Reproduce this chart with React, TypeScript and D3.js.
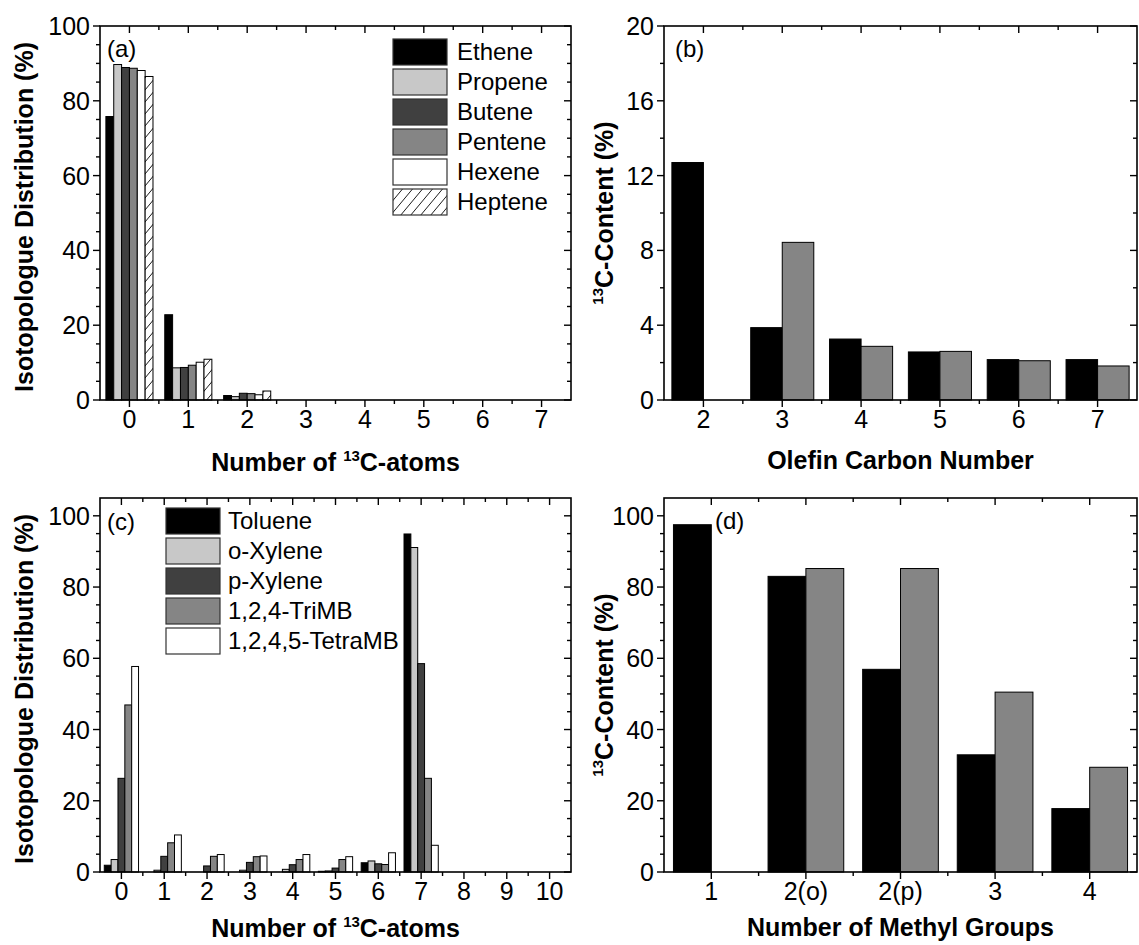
import React from 'react';
import * as d3 from 'd3';

// ---------- DATA ----------
// Panel (a): isotopologue distribution of olefins, by number of 13C atoms
const atomsA = [0, 1, 2, 3, 4, 5, 6, 7];
const olefinNames = ['Ethene', 'Propene', 'Butene', 'Pentene', 'Hexene', 'Heptene'];
const ethene = [75.8, 22.8, 1.2, 0, 0, 0, 0, 0];
const propene = [89.7, 8.6, 0.9, 0, 0, 0, 0, 0];
const butene = [88.9, 8.7, 1.8, 0, 0, 0, 0, 0];
const pentene = [88.7, 9.3, 1.7, 0, 0, 0, 0, 0];
const hexene = [88.1, 10.1, 1.4, 0, 0, 0, 0, 0];
const heptene = [86.5, 10.9, 2.4, 0, 0, 0, 0, 0];
const olefinSeries = [ethene, propene, butene, pentene, hexene, heptene];
const olefinColors = ['#000000', '#c8c8c8', '#404040', '#858585', '#ffffff', 'url(#hatch)'];

// Panel (b): 13C content vs olefin carbon number
const carbonNumbers = ['2', '3', '4', '5', '6', '7'];
const olefinContentA = [12.7, 3.87, 3.26, 2.57, 2.16, 2.16];
const olefinContentB = [null, 8.43, 2.87, 2.6, 2.1, 1.82];

// Panel (c): isotopologue distribution of aromatics
const atomsC = [0, 1, 2, 3, 4, 5, 6, 7, 8, 9, 10];
const aromaticNames = ['Toluene', 'o-Xylene', 'p-Xylene', '1,2,4-TriMB', '1,2,4,5-TetraMB'];
const toluene = [1.9, 0, 0, 0, 0, 0.2, 2.6, 94.9, 0, 0, 0];
const oXylene = [3.5, 0.5, 0, 0.5, 0.75, 0.3, 3.1, 91.1, 0, 0, 0];
const pXylene = [26.3, 4.4, 1.7, 2.7, 2.05, 1.1, 2.3, 58.5, 0, 0, 0];
const triMB = [46.9, 8.2, 4.4, 4.3, 3.5, 3.5, 2.1, 26.3, 0, 0, 0];
const tetraMB = [57.7, 10.4, 4.9, 4.5, 4.9, 4.3, 5.4, 7.5, 0, 0, 0];
const aromaticSeries = [toluene, oXylene, pXylene, triMB, tetraMB];
const aromaticColors = ['#000000', '#c8c8c8', '#404040', '#858585', '#ffffff'];

// Panel (d): 13C content vs number of methyl groups
const methylGroups = ['1', '2(o)', '2(p)', '3', '4'];
const aromaticContentA = [97.5, 83.0, 56.9, 32.9, 17.8];
const aromaticContentB = [null, 85.2, 85.2, 50.5, 29.4];

const pairColors = ['#000000', '#858585'];

// ---------- STYLE ----------
const FONT = '"Liberation Sans", Arial, Helvetica, sans-serif';
const MAJ = 7;
const MIN = 4;
const TICK_FS = 25;
const TITLE_FS = 25;
const LEG_FS = 24;

type Lin = d3.ScaleLinear<number, number>;

function Axes({ x, y, xMajor, xMinor, yMajor, yMinor, xLabel, yLabel }: {
  x: Lin; y: Lin; xMajor: number[]; xMinor: number[]; yMajor: number[]; yMinor: number[];
  xLabel: (v: number, i: number) => string; yLabel: (v: number) => string;
}) {
  const [X0, X1] = x.range();
  const [Yb, Yt] = y.range();
  const lines: JSX.Element[] = [];
  xMajor.forEach((v, i) => {
    lines.push(<line key={'bM' + i} x1={x(v)} x2={x(v)} y1={Yb} y2={Yb + MAJ} />);
    lines.push(<line key={'tM' + i} x1={x(v)} x2={x(v)} y1={Yt} y2={Yt + MAJ} />);
  });
  xMinor.forEach((v, i) => {
    lines.push(<line key={'bm' + i} x1={x(v)} x2={x(v)} y1={Yb} y2={Yb + MIN} />);
    lines.push(<line key={'tm' + i} x1={x(v)} x2={x(v)} y1={Yt} y2={Yt + MIN} />);
  });
  yMajor.forEach((v, i) => {
    lines.push(<line key={'lM' + i} x1={X0 - MAJ} x2={X0} y1={y(v)} y2={y(v)} />);
    lines.push(<line key={'rM' + i} x1={X1 - MAJ} x2={X1} y1={y(v)} y2={y(v)} />);
  });
  yMinor.forEach((v, i) => {
    lines.push(<line key={'lm' + i} x1={X0 - MIN} x2={X0} y1={y(v)} y2={y(v)} />);
    lines.push(<line key={'rm' + i} x1={X1 - MIN} x2={X1} y1={y(v)} y2={y(v)} />);
  });
  return (
    <g>
      <g stroke="#000" strokeWidth={1.4}>{lines}</g>
      <rect x={X0} y={Yt} width={X1 - X0} height={Yb - Yt} fill="none" stroke="#000" strokeWidth={1.6} />
      <g fontFamily={FONT} fontSize={TICK_FS} fill="#000">
        {xMajor.map((v, i) => (
          <text key={'xl' + i} x={x(v)} y={Yb + 28} textAnchor="middle">{xLabel(v, i)}</text>
        ))}
        {yMajor.map((v, i) => (
          <text key={'yl' + i} x={X0 - 10} y={y(v) + 9} textAnchor="end">{yLabel(v)}</text>
        ))}
      </g>
    </g>
  );
}

function minorsBetween(majors: number[], step: number, lo: number, hi: number, majorStep: number) {
  const out: number[] = [];
  for (let v = lo; v <= hi + 1e-9; v += step) {
    const r = Math.round(v * 1000) / 1000;
    if (Math.abs(r / majorStep - Math.round(r / majorStep)) > 1e-6) out.push(r);
  }
  return out;
}

function GroupedBars({ x, y, series, colors, names }: {
  x: Lin; y: Lin; series: (number | null)[][]; colors: string[]; names: string[];
}) {
  const inner = d3.scaleBand<string>().domain(names).range([-0.4, 0.4]).paddingInner(0);
  const w = x(inner.bandwidth()) - x(0);
  const out: JSX.Element[] = [];
  series.forEach((vals, s) => {
    vals.forEach((v, i) => {
      if (v == null || v <= 0) return;
      const xx = x(i + (inner(names[s]) as number));
      out.push(
        <rect key={s + '-' + i} x={xx} y={y(v)} width={w} height={y(0) - y(v)}
          fill={colors[s]} stroke="#000" strokeWidth={1} />
      );
    });
  });
  return <g>{out}</g>;
}

function Legend({ x, y, names, colors, textX }: { x: number; y: number; names: string[]; colors: string[]; textX: number }) {
  return (
    <g>
      {names.map((n, i) => (
        <g key={n}>
          <rect x={x} y={y + i * 30} width={54} height={26} fill={colors[i]} stroke="#333" strokeWidth={1.2} />
          <text x={textX} y={y + i * 30 + 21} fontFamily={FONT} fontSize={LEG_FS}>{n}</text>
        </g>
      ))}
    </g>
  );
}

function YTitle({ cx, cy, children }: { cx: number; cy: number; children: React.ReactNode }) {
  return (
    <text transform={`translate(${cx},${cy}) rotate(-90)`} textAnchor="middle"
      fontFamily={FONT} fontSize={TITLE_FS} fontWeight="bold">{children}</text>
  );
}

export default function App() {
  // Panel positions
  const A = { x0: 100, x1: 571, y0: 26, y1: 400 };
  const B = { x0: 664, x1: 1137, y0: 26, y1: 400 };
  const C = { x0: 100, x1: 571, y0: 498, y1: 872 };
  const D = { x0: 664, x1: 1137, y0: 498, y1: 872 };

  const xa = d3.scaleLinear().domain([-0.5, 7.5]).range([A.x0, A.x1]);
  const ya = d3.scaleLinear().domain([0, 100]).range([A.y1, A.y0]);
  const xb = d3.scaleLinear().domain([-0.5, 5.5]).range([B.x0, B.x1]);
  const yb = d3.scaleLinear().domain([0, 20]).range([B.y1, B.y0]);
  const xc = d3.scaleLinear().domain([-0.5, 10.5]).range([C.x0, C.x1]);
  const yc = d3.scaleLinear().domain([0, 105]).range([C.y1, C.y0]);
  const xd = d3.scaleLinear().domain([-0.5, 4.5]).range([D.x0, D.x1]);
  const yd = d3.scaleLinear().domain([0, 105]).range([D.y1, D.y0]);

  const idxA = atomsA.map((_, i) => i);
  const idxB = carbonNumbers.map((_, i) => i);
  const idxC = atomsC.map((_, i) => i);
  const idxD = methylGroups.map((_, i) => i);
  const halfMinor = (idx: number[]) => idx.slice(0, -1).map(i => i + 0.5);

  const yMajA = d3.range(0, 101, 20);
  const yMinA = minorsBetween(yMajA, 5, 0, 100, 20);
  const yMajB = d3.range(0, 21, 4);
  const yMinB = minorsBetween(yMajB, 2, 0, 20, 4);
  const yMajC = d3.range(0, 101, 20);
  const yMinC = minorsBetween(yMajC, 5, 0, 104, 20);

  const pairNames = ['A', 'B'];
  const pairInner = d3.scaleBand<string>().domain(pairNames).range([-0.4, 0.4]);

  const pairBars = (x: Lin, y: Lin, a: (number | null)[], b: (number | null)[]) => {
    const w = x(pairInner.bandwidth()) - x(0);
    const res: JSX.Element[] = [];
    [a, b].forEach((vals, s) => {
      vals.forEach((v, i) => {
        if (v == null) return;
        res.push(<rect key={s + '_' + i} x={x(i + (pairInner(pairNames[s]) as number))} y={y(v)}
          width={w} height={y(0) - y(v)} fill={pairColors[s]} stroke="#000" strokeWidth={1} />);
      });
    });
    return <g>{res}</g>;
  };

  return (
    <svg width={1139} height={945} style={{ position: 'absolute', left: 0, top: 0, background: '#fff' }}>
      <defs>
        <pattern id="hatch" patternUnits="userSpaceOnUse" width={10} height={12}>
          <rect width={10} height={12} fill="#fff" />
          <path d="M0,12 L10,0 M-5,6 L0,0 M10,12 L15,6" stroke="#000" strokeWidth={0.9} />
        </pattern>
      </defs>
      <rect width={1139} height={945} fill="#fff" />

      {/* Panel (a) */}
      <GroupedBars x={xa} y={ya} series={olefinSeries} colors={olefinColors} names={olefinNames} />
      <Axes x={xa} y={ya} xMajor={idxA} xMinor={halfMinor(idxA)} yMajor={yMajA} yMinor={yMinA}
        xLabel={(v, i) => String(atomsA[i])} yLabel={v => String(v)} />
      <Legend x={393} y={39} names={olefinNames} colors={olefinColors} textX={457} />
      <text x={107} y={57} fontFamily={FONT} fontSize={24}>(a)</text>
      <text x={(A.x0 + A.x1) / 2} y={471} textAnchor="middle" fontFamily={FONT} fontSize={TITLE_FS} fontWeight="bold">
        Number of <tspan fontSize={15} dy={-10}>13</tspan><tspan dy={10}>C-atoms</tspan>
      </text>
      <YTitle cx={33} cy={(A.y0 + A.y1) / 2 + 4}>Isotopologue Distribution (%)</YTitle>

      {/* Panel (b) */}
      {pairBars(xb, yb, olefinContentA, olefinContentB)}
      <Axes x={xb} y={yb} xMajor={idxB} xMinor={halfMinor(idxB)} yMajor={yMajB} yMinor={yMinB}
        xLabel={(v, i) => carbonNumbers[i]} yLabel={v => String(v)} />
      <text x={675} y={57} fontFamily={FONT} fontSize={24}>(b)</text>
      <text x={(B.x0 + B.x1) / 2} y={469} textAnchor="middle" fontFamily={FONT} fontSize={TITLE_FS} fontWeight="bold">
        Olefin Carbon Number
      </text>
      <YTitle cx={613} cy={(B.y0 + B.y1) / 2}>
        <tspan fontSize={15} dy={-10}>13</tspan><tspan dy={10}>C-Content (%)</tspan>
      </YTitle>

      {/* Panel (c) */}
      <GroupedBars x={xc} y={yc} series={aromaticSeries} colors={aromaticColors} names={aromaticNames} />
      <Axes x={xc} y={yc} xMajor={idxC} xMinor={halfMinor(idxC)} yMajor={yMajC} yMinor={yMinC}
        xLabel={(v, i) => String(atomsC[i])} yLabel={v => String(v)} />
      <Legend x={166} y={508} names={aromaticNames} colors={aromaticColors} textX={228} />
      <text x={107} y={530} fontFamily={FONT} fontSize={24}>(c)</text>
      <text x={(C.x0 + C.x1) / 2} y={937} textAnchor="middle" fontFamily={FONT} fontSize={TITLE_FS} fontWeight="bold">
        Number of <tspan fontSize={15} dy={-10}>13</tspan><tspan dy={10}>C-atoms</tspan>
      </text>
      <YTitle cx={33} cy={(C.y0 + C.y1) / 2 + 4}>Isotopologue Distribution (%)</YTitle>

      {/* Panel (d) */}
      {pairBars(xd, yd, aromaticContentA, aromaticContentB)}
      <Axes x={xd} y={yd} xMajor={idxD} xMinor={halfMinor(idxD)} yMajor={yMajC} yMinor={yMinC}
        xLabel={(v, i) => methylGroups[i]} yLabel={v => String(v)} />
      <text x={715} y={529} fontFamily={FONT} fontSize={24}>(d)</text>
      <text x={(D.x0 + D.x1) / 2} y={936} textAnchor="middle" fontFamily={FONT} fontSize={TITLE_FS} fontWeight="bold">
        Number of Methyl Groups
      </text>
      <YTitle cx={613} cy={(D.y0 + D.y1) / 2}>
        <tspan fontSize={15} dy={-10}>13</tspan><tspan dy={10}>C-Content (%)</tspan>
      </YTitle>
    </svg>
  );
}
